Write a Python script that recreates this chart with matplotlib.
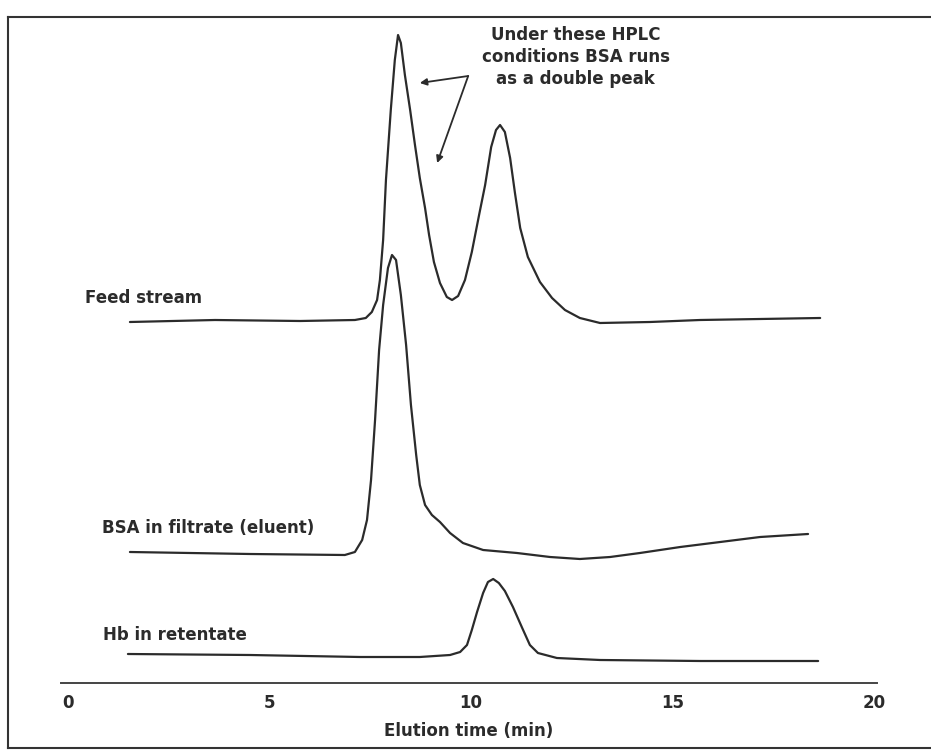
import matplotlib.pyplot as plt
from matplotlib.lines import Line2D

# Feed stream trace (elution time in min, detector signal in arbitrary units)
feed_time = [1.54, 3.65, 5.76, 7.12, 7.39, 7.54, 7.67, 7.74, 7.82, 7.89, 8.01, 8.11, 8.19,
             8.26, 8.36, 8.49, 8.61, 8.73, 8.86, 8.96, 9.08, 9.23, 9.40, 9.53, 9.68, 9.85,
             10.02, 10.20, 10.35, 10.50, 10.62, 10.72, 10.84, 10.97, 11.09, 11.22, 11.41,
             11.71, 12.01, 12.33, 12.70, 13.20, 14.44, 15.68, 17.17, 18.66]
feed_signal = [361, 363, 362, 363, 365, 371, 383, 403, 443, 503, 573, 623, 648,
               640, 608, 573, 538, 505, 475, 448, 421, 400, 386, 383, 387, 403,
               431, 468, 498, 536, 553, 558, 551, 525, 490, 455, 426,
               401, 385, 373, 365, 360, 361, 363, 364, 365]

# BSA in filtrate (eluent)
bsa_time = [1.54, 4.52, 6.87, 7.12, 7.30, 7.42, 7.52, 7.62, 7.72, 7.82, 7.94, 8.04, 8.14,
            8.26, 8.39, 8.51, 8.64, 8.73, 8.86, 9.03, 9.23, 9.48, 9.80, 10.30, 11.14,
            11.96, 12.70, 13.45, 14.19, 15.19, 16.18, 17.17, 18.36]
bsa_signal = [131, 129, 128, 131, 143, 163, 203, 263, 333, 378, 415, 428, 423,
              388, 338, 278, 228, 198, 178, 168, 161, 150, 140, 133, 130,
              126, 124, 126, 130, 136, 141, 146, 149]

# Hb in retentate
hb_time = [1.49, 4.52, 7.25, 8.73, 9.48, 9.73, 9.90, 10.02, 10.15, 10.30, 10.42, 10.55,
           10.69, 10.84, 11.04, 11.27, 11.46, 11.66, 12.13, 13.20, 15.68, 18.61]
hb_signal = [29, 28, 26, 26, 28, 31, 38, 53, 71, 90, 101, 104,
             100, 92, 76, 55, 38, 30, 25, 23, 22, 22]

xticks = [0, 5, 10, 15, 20]
ink = '#2b2b2b'

fig = plt.figure(figsize=(9.31, 7.5), dpi=100)
ax = fig.add_axes([61 / 931, 1 - 683 / 750, 816 / 931, 663 / 750])

for t, s in [(feed_time, feed_signal), (bsa_time, bsa_signal), (hb_time, hb_signal)]:
    ax.plot(t, s, color=ink, lw=1.6, solid_joinstyle='round', solid_capstyle='round')

ax.set_xlim(-0.17, 20.07)
ax.set_ylim(0, 663)
ax.set_xticks(xticks)
ax.set_xticklabels([str(v) for v in xticks], fontsize=12, fontweight='bold', color=ink)
ax.tick_params(axis='x', length=0, pad=8)
ax.set_yticks([])
for side in ['top', 'right', 'left']:
    ax.spines[side].set_visible(False)
ax.spines['bottom'].set_color('#444444')
ax.spines['bottom'].set_linewidth(1.4)
ax.set_xlabel('Elution time (min)', fontsize=12, fontweight='bold', color=ink, labelpad=7)

lab = dict(fontsize=12, fontweight='bold', color=ink, va='center', ha='left')
ax.text(0.42, 385, 'Feed stream', **lab)
ax.text(0.84, 155, 'BSA in filtrate (eluent)', **lab)
ax.text(0.87, 48, 'Hb in retentate', **lab)

ax.text(12.6, 626, 'Under these HPLC\nconditions BSA runs\nas a double peak',
        fontsize=12, fontweight='bold', color=ink, ha='center', va='center',
        linespacing=1.25)
arrow = dict(arrowstyle='-|>', color=ink, lw=1.3, mutation_scale=10, shrinkA=0, shrinkB=0)
ax.annotate('', xy=(8.73, 600), xytext=(9.93, 607), arrowprops=arrow)
ax.annotate('', xy=(9.16, 520), xytext=(9.93, 607), arrowprops=arrow)

# scanned page frame
fx0, fx1 = 8 / 931, 1.01
fy0, fy1 = 1 - 748 / 750, 1 - 17 / 750
for xs, ys in [([fx0, fx1], [fy1, fy1]), ([fx0, fx0], [fy0, fy1]), ([fx0, fx1], [fy0, fy0])]:
    fig.add_artist(Line2D(xs, ys, transform=fig.transFigure, color='#333333', lw=1.5))

fig.savefig('out.png', dpi=100)
